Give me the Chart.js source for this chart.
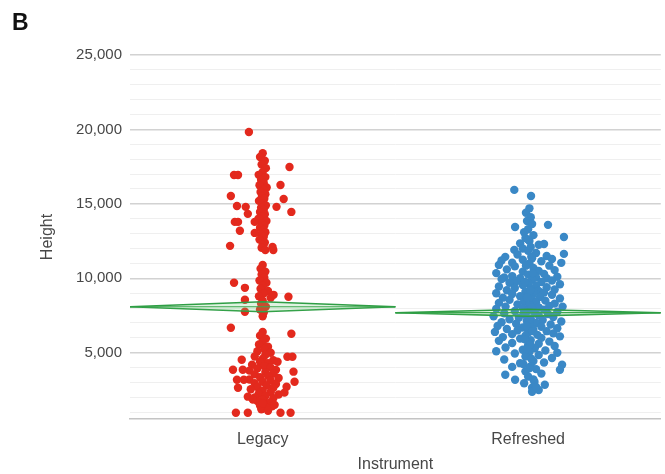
<!DOCTYPE html>
<html>
<head>
<meta charset="utf-8">
<script src="https://cdn.jsdelivr.net/npm/chart.js@4.4.0/dist/chart.umd.min.js"></script>
<style>
  html, body { margin: 0; padding: 0; background: #fff; }
  #wrap { position: relative; width: 665px; height: 474px; }
  #panel { position: absolute; left: 12px; top: 9px; font: bold 23px "Liberation Sans", Arial, sans-serif; color: #111; }
</style>
</head>
<body>
<div id="wrap">
  <canvas id="oneway" width="665" height="474"></canvas>
  <div id="panel">B</div>
</div>
<script>
const categories = ["Legacy", "Refreshed"];
const yTicks = [5000, 10000, 15000, 20000, 25000];

// [jitter (category units), height]
const legacyPoints = [
  [-0.052,19830],
  [0.000,18400],[-0.010,18150],[0.008,17900],[-0.004,17650],[0.012,17400],[0.000,17150],[-0.015,16950],[0.010,16800],
  [-0.006,16600],[0.004,16400],[-0.012,16250],[0.015,16100],[0.002,15950],[-0.008,15800],[0.010,15650],[-0.003,15500],
  [0.006,15350],[-0.014,15200],[0.000,15050],[0.012,14900],[-0.006,14750],[0.004,14600],[-0.010,14450],[0.008,14300],
  [0.000,14150],[-0.016,14000],[0.014,13850],[-0.004,13700],[0.006,13550],[-0.010,13400],[0.002,13250],[0.010,13100],
  [-0.006,12950],[0.004,12800],[-0.012,12600],[0.008,12400],[0.000,12250],[-0.004,12050],[0.010,11900],[0.040,11900],
  [0.101,17480],[-0.108,16940],[-0.093,16940],[0.067,16270],[-0.120,15530],[0.079,15330],[-0.097,14860],[-0.064,14800],
  [0.052,14800],[0.108,14460],[-0.056,14330],[-0.105,13790],[-0.093,13790],[-0.086,13190],[-0.030,13790],[-0.030,13050],
  [-0.123,12180],[0.037,12110],
  [0.000,10900],[-0.008,10650],[0.010,10450],[-0.004,10250],[0.006,10050],[-0.012,9850],[0.014,9700],[0.000,9500],
  [-0.008,9300],[0.020,9150],[0.004,9000],[-0.014,8800],[0.030,8700],[0.000,8500],[-0.006,8300],[0.012,8100],
  [-0.010,7900],[0.004,7700],[0.000,7450],
  [-0.108,9700],[-0.067,9360],[0.041,8890],[0.097,8760],[-0.067,8560],[-0.067,7750],[-0.120,6680],[0.108,6280],
  [0.000,6400],[-0.010,6150],[0.012,5950],[0.000,5750],[-0.014,5550],[0.020,5400],[0.006,5250],[-0.020,5100],
  [0.030,5000],[0.010,4850],[-0.030,4750],[0.000,4600],[0.040,4500],[-0.010,4400],[0.020,4300],[-0.040,4200],
  [0.006,4100],[0.030,4000],[-0.020,3950],[0.050,3850],[-0.050,3800],[0.010,3700],[0.040,3600],[-0.030,3550],
  [0.020,3450],[-0.010,3350],[0.060,3300],[-0.050,3200],[0.030,3150],[0.000,3050],[-0.030,2950],[0.050,2900],
  [0.015,2800],[-0.020,2700],[0.040,2650],[-0.045,2550],[0.000,2450],[0.030,2350],[-0.015,2250],[0.060,2200],
  [0.010,2100],[-0.030,2000],[0.040,1950],[0.000,1850],[-0.020,1750],[0.025,1650],[0.005,1550],[-0.010,1450],
  [0.035,1400],[0.015,1300],[-0.005,1200],[0.020,1100],[0.000,1600],[0.045,1500],
  [-0.079,4530],[-0.112,3860],[-0.075,3860],[0.093,4730],[0.112,4730],[0.056,4400],[0.116,3730],[-0.097,3190],
  [-0.071,3190],[0.120,3050],[-0.093,2650],[0.090,2720],[0.082,2320],[-0.056,2050],[-0.037,1850],[-0.101,970],
  [-0.056,970],[0.067,970],[0.105,970]
];

const refreshedPoints = [
  [-0.052,15940],[0.011,15530],[0.005,14700],[-0.008,14400],[0.010,14100],[-0.004,13850],[0.015,13650],[-0.049,13450],
  [0.075,13590],[0.000,13300],[-0.015,13100],
  [0.135,12780],[0.020,12900],[-0.010,12700],[0.005,12500],[-0.030,12350],[0.040,12250],[0.010,12100],[-0.020,12000],[0.060,12300],
  [-0.052,11910],[0.135,11640],[0.125,11040],[-0.086,11440],[0.000,11850],[0.030,11700],[-0.040,11600],[0.070,11500],
  [0.015,11350],[-0.020,11250],[0.050,11150],[-0.060,11050],[0.090,11300],[-0.100,11200],[0.005,11000],
  [-0.110,10900],[0.080,10850],[-0.050,10800],[0.020,10700],[-0.080,10600],[0.100,10550],[0.040,10500],[-0.020,10450],
  [-0.120,10350],[0.060,10300],[0.000,10250],[-0.060,10150],[0.110,10100],[0.030,10050],[-0.030,10000],[-0.090,10050],[0.070,10000],
  [-0.100,9950],[0.015,9900],[0.090,9850],[-0.045,9800],[0.050,9750],[-0.070,9700],[0.000,9650],[0.120,9600],
  [-0.020,9550],[0.030,9500],[-0.110,9450],[0.070,9400],[-0.050,9350],[0.010,9300],[0.100,9250],[-0.080,9200],
  [0.040,9150],[-0.010,9100],[0.060,9050],[-0.120,9000],[0.020,9000],
  [-0.060,8950],[0.090,8900],[0.000,8850],[-0.030,8800],[0.045,8750],[-0.095,8700],[0.120,8650],[0.015,8600],
  [-0.070,8550],[0.065,8500],[-0.015,8450],[0.030,8400],[-0.110,8350],[0.100,8300],[-0.040,8250],[0.005,8200],
  [0.080,8150],[-0.085,8100],[0.040,8050],[-0.020,8000],[0.130,8100],
  [-0.120,7950],[0.060,7900],[0.000,7850],[-0.050,7800],[0.110,7750],[0.025,7700],[-0.090,7650],[0.075,7600],
  [-0.010,7550],[0.040,7500],[-0.130,7450],[0.095,7400],[-0.035,7350],[0.010,7300],[-0.070,7250],[0.055,7200],
  [-0.005,7150],[0.125,7100],[-0.100,7050],[0.030,7000],
  [-0.045,6950],[0.085,6900],[0.005,6850],[-0.115,6800],[0.050,6750],[-0.020,6700],[0.110,6650],[-0.080,6600],
  [0.020,6550],[-0.040,6500],[0.070,6450],[-0.125,6400],[0.000,6350],[0.095,6300],[-0.060,6250],[0.035,6200],
  [-0.010,6150],[0.120,6100],[-0.095,6050],[0.050,6000],
  [-0.030,5950],[0.010,5850],[-0.110,5800],[0.080,5750],[-0.060,5650],[0.040,5600],[0.000,5500],[0.100,5450],
  [-0.085,5350],[0.025,5300],[-0.020,5200],[0.065,5150],[-0.120,5100],[0.005,5050],[0.110,5000],
  [-0.050,4950],[0.040,4850],[-0.010,4750],[0.090,4650],[-0.090,4550],[0.020,4450],[0.060,4350],[-0.030,4300],
  [0.128,4190],[0.010,4100],[-0.060,4050],
  [0.120,3860],[0.030,3900],[-0.010,3750],[-0.086,3520],[0.050,3600],[0.000,3400],[-0.049,3190],[0.020,3200],
  [0.063,2850],[-0.015,2950],[0.015,2650],[0.015,2380],[0.040,2500],
  [0.000,12600],[0.012,11450],[-0.008,10850],[0.018,10350],[-0.012,9750],[0.008,9200],[-0.004,8700],[0.014,8050],
  [-0.016,7650],[0.006,7250],[-0.006,6800],[0.016,6450],[-0.012,5900],[0.008,5550],[-0.004,5250],[0.012,4600],
  [-0.018,4250],[0.004,3950],[0.024,3050],[0.030,2700]
];

const groupMeans = [8090, 7690];
const groupCI = [340, 230];

const pointColors = ["#e3291d", "#3a88c6"];
const diamondLine = "#2f9e45";
const diamondFill = "rgba(110, 200, 120, 0.22)";

const font = { family: "'Liberation Sans', Arial, sans-serif", size: 15 };
const textColor = "#474747";

const datasets = [];

// mean diamonds, drawn over the points
categories.forEach((c, i) => {
  const m = groupMeans[i], h = groupCI[i];
  datasets.push({
    data: [{ x: i, y: m }, { x: i + 0.5, y: m + h }, { x: i + 1, y: m }],
    showLine: true, pointRadius: 0, borderColor: diamondLine, borderWidth: 1.6,
    backgroundColor: diamondFill, fill: "+1", order: 1
  });
  datasets.push({
    data: [{ x: i, y: m }, { x: i + 0.5, y: m - h }, { x: i + 1, y: m }],
    showLine: true, pointRadius: 0, borderColor: diamondLine, borderWidth: 1.6,
    fill: false, order: 1
  });
  datasets.push({
    data: [{ x: i, y: m }, { x: i + 1, y: m }],
    showLine: true, pointRadius: 0, borderColor: diamondLine, borderWidth: 1.2,
    fill: false, order: 1
  });
});

// jittered points
[legacyPoints, refreshedPoints].forEach((pts, i) => {
  datasets.push({
    data: pts.map(p => ({ x: i + 0.5 + p[0], y: p[1] })),
    pointRadius: 4.2, pointBorderWidth: 0,
    backgroundColor: pointColors[i], borderColor: pointColors[i],
    showLine: false, order: 2
  });
});

new Chart(document.getElementById("oneway"), {
  type: "scatter",
  data: { datasets },
  options: {
    responsive: false,
    animation: false,
    layout: { padding: { top: 55, left: 38, right: 0, bottom: 0 } },
    plugins: { legend: { display: false }, tooltip: { enabled: false } },
    scales: {
      x: {
        type: "linear", min: 0, max: 2,
        afterBuildTicks: s => { s.ticks = [{ value: 0.5 }, { value: 1.5 }]; },
        afterFit: s => { s.height = 55; },
        ticks: {
          callback: (v, idx) => categories[idx],
          color: textColor, font: { ...font, size: 16 }, padding: 3, maxRotation: 0
        },
        grid: { display: false },
        border: { color: "#c4c4c4", width: 1.5 },
        title: { display: true, text: "Instrument", color: textColor, font: { ...font, size: 16 }, padding: { top: 0, bottom: 0 } }
      },
      y: {
        min: 550, max: 25000,
        afterBuildTicks: s => {
          const t = [];
          for (let v = 1000; v <= 25000; v += 1000) t.push({ value: v });
          s.ticks = t;
        },
        afterFit: s => { s.width = 92; },
        ticks: {
          callback: v => yTicks.includes(v) ? v.toLocaleString("en-US") : "",
          color: textColor, font, padding: 8, autoSkip: false
        },
        grid: {
          drawTicks: false,
          color: c => yTicks.includes(c.tick.value) ? "#d2d2d2" : "#efefef",
          lineWidth: c => yTicks.includes(c.tick.value) ? 1.5 : 1
        },
        border: { display: false },
        title: { display: true, text: "Height", color: textColor, font: { ...font, size: 16 }, padding: { top: 0, bottom: 5 } }
      }
    }
  }
});
</script>
</body>
</html>
